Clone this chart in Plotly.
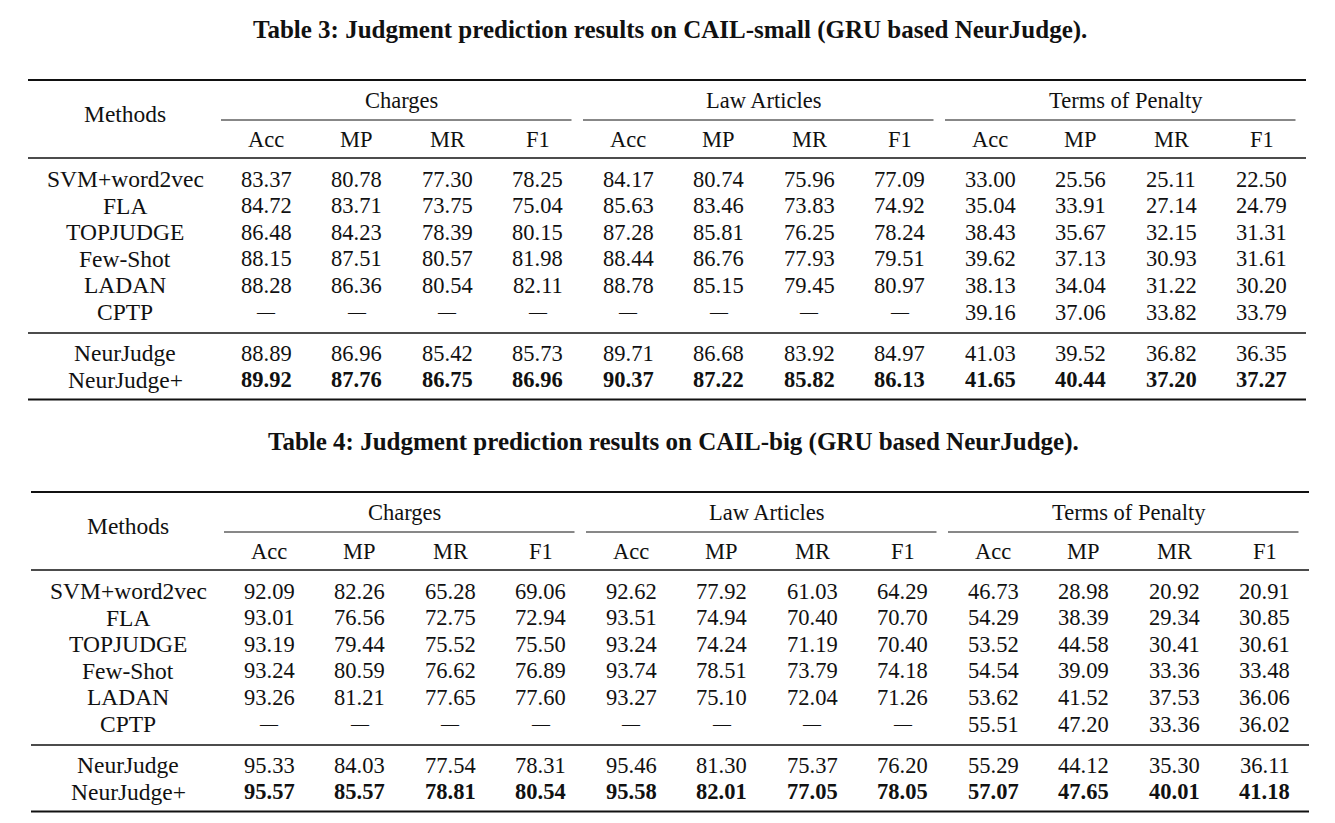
import plotly.graph_objects as go

FONT = "Liberation Serif"
INK = "#111111"

METHODS = ["SVM+word2vec", "FLA", "TOPJUDGE", "Few-Shot", "LADAN", "CPTP", "NeurJudge", "NeurJudge+"]
GROUPS = ["Charges", "Law Articles", "Terms of Penalty"]
METRICS = ["Acc", "MP", "MR", "F1"]

T3_TITLE = "Table 3: Judgment prediction results on CAIL-small (GRU based NeurJudge)."
T4_TITLE = "Table 4: Judgment prediction results on CAIL-big (GRU based NeurJudge)."

# Table 3 (CAIL-small): Charges Acc/MP/MR/F1, Law Articles Acc/MP/MR/F1, Terms of Penalty Acc/MP/MR/F1
T3_SVM = [83.37, 80.78, 77.30, 78.25, 84.17, 80.74, 75.96, 77.09, 33.00, 25.56, 25.11, 22.50]
T3_FLA = [84.72, 83.71, 73.75, 75.04, 85.63, 83.46, 73.83, 74.92, 35.04, 33.91, 27.14, 24.79]
T3_TOPJUDGE = [86.48, 84.23, 78.39, 80.15, 87.28, 85.81, 76.25, 78.24, 38.43, 35.67, 32.15, 31.31]
T3_FEWSHOT = [88.15, 87.51, 80.57, 81.98, 88.44, 86.76, 77.93, 79.51, 39.62, 37.13, 30.93, 31.61]
T3_LADAN = [88.28, 86.36, 80.54, 82.11, 88.78, 85.15, 79.45, 80.97, 38.13, 34.04, 31.22, 30.20]
T3_CPTP = [None, None, None, None, None, None, None, None, 39.16, 37.06, 33.82, 33.79]
T3_NEURJUDGE = [88.89, 86.96, 85.42, 85.73, 89.71, 86.68, 83.92, 84.97, 41.03, 39.52, 36.82, 36.35]
T3_NEURJUDGE_PLUS = [89.92, 87.76, 86.75, 86.96, 90.37, 87.22, 85.82, 86.13, 41.65, 40.44, 37.20, 37.27]

# Table 4 (CAIL-big)
T4_SVM = [92.09, 82.26, 65.28, 69.06, 92.62, 77.92, 61.03, 64.29, 46.73, 28.98, 20.92, 20.91]
T4_FLA = [93.01, 76.56, 72.75, 72.94, 93.51, 74.94, 70.40, 70.70, 54.29, 38.39, 29.34, 30.85]
T4_TOPJUDGE = [93.19, 79.44, 75.52, 75.50, 93.24, 74.24, 71.19, 70.40, 53.52, 44.58, 30.41, 30.61]
T4_FEWSHOT = [93.24, 80.59, 76.62, 76.89, 93.74, 78.51, 73.79, 74.18, 54.54, 39.09, 33.36, 33.48]
T4_LADAN = [93.26, 81.21, 77.65, 77.60, 93.27, 75.10, 72.04, 71.26, 53.62, 41.52, 37.53, 36.06]
T4_CPTP = [None, None, None, None, None, None, None, None, 55.51, 47.20, 33.36, 36.02]
T4_NEURJUDGE = [95.33, 84.03, 77.54, 78.31, 95.46, 81.30, 75.37, 76.20, 55.29, 44.12, 35.30, 36.11]
T4_NEURJUDGE_PLUS = [95.57, 85.57, 78.81, 80.54, 95.58, 82.01, 77.05, 78.05, 57.07, 47.65, 40.01, 41.18]

T3_ROWS = [T3_SVM, T3_FLA, T3_TOPJUDGE, T3_FEWSHOT, T3_LADAN, T3_CPTP, T3_NEURJUDGE, T3_NEURJUDGE_PLUS]
T4_ROWS = [T4_SVM, T4_FLA, T4_TOPJUDGE, T4_FEWSHOT, T4_LADAN, T4_CPTP, T4_NEURJUDGE, T4_NEURJUDGE_PLUS]
BOLD_ROWS = {"NeurJudge+"}

W, H = 1335, 823
BODY = 22.5
NAME_SIZE = 23.5
DASH_SIZE = 18
TITLE_SIZE = 25

fig = go.Figure()
ann = []
shapes = []


def text(x, y, s, size=BODY, bold=False):
    ann.append(dict(
        x=x, y=y, xref="x", yref="y", text=(f"<b>{s}</b>" if bold else s),
        showarrow=False, xanchor="center", yanchor="middle",
        font=dict(family=FONT, size=size, color=INK),
    ))


def hline(x0, x1, y, width):
    shapes.append(dict(type="line", xref="x", yref="y", x0=x0, x1=x1, y0=y, y1=y,
                       line=dict(color=INK, width=width)))


def draw_table(top, dx, title, title_x, rows):
    col0 = 266 + dx
    step = 90.5
    cols = [col0 + i * step for i in range(len(METRICS) * len(GROUPS))]
    text(title_x, top - 50, title, size=TITLE_SIZE, bold=True)
    hline(28 + dx, 1306 + dx, top, 2.0)
    text(125 + dx, top + 34, "Methods", size=NAME_SIZE)
    for g, name in enumerate(GROUPS):
        c = cols[g * 4:(g + 1) * 4]
        text((c[0] + c[-1]) / 2, top + 20, name)
        hline(c[0] - 45, c[-1] + 34, top + 40, 1.0)
        for k, m in enumerate(METRICS):
            text(c[k], top + 59, m)
    hline(28 + dx, 1306 + dx, top + 78, 1.3)
    row_step = 26.6
    ys = [top + 99 + i * row_step for i in range(6)] + [top + 273, top + 299.5]
    hline(28 + dx, 1306 + dx, top + 253, 1.3)
    hline(28 + dx, 1306 + dx, top + 319.5, 2.0)
    for name, vals, y in zip(METHODS, rows, ys):
        text(125 + dx, y, name, size=NAME_SIZE)
        b = name in BOLD_ROWS
        for c, v in zip(cols, vals):
            if v is None:
                text(c, y, "—", size=DASH_SIZE)
            else:
                text(c, y, f"{v:.2f}", bold=b)


draw_table(80, 0, T3_TITLE, 670, T3_ROWS)
draw_table(492, 3, T4_TITLE, 673, T4_ROWS)

fig.update_layout(
    width=W, height=H, margin=dict(l=0, r=0, t=0, b=0),
    paper_bgcolor="white", plot_bgcolor="white",
    xaxis=dict(range=[0, W], visible=False, fixedrange=True),
    yaxis=dict(range=[H, 0], visible=False, fixedrange=True),
    annotations=ann, shapes=shapes, showlegend=False,
)

fig.write_html("out.html", post_script="document.body.style.margin='0';",
               config={"displayModeBar": False})
